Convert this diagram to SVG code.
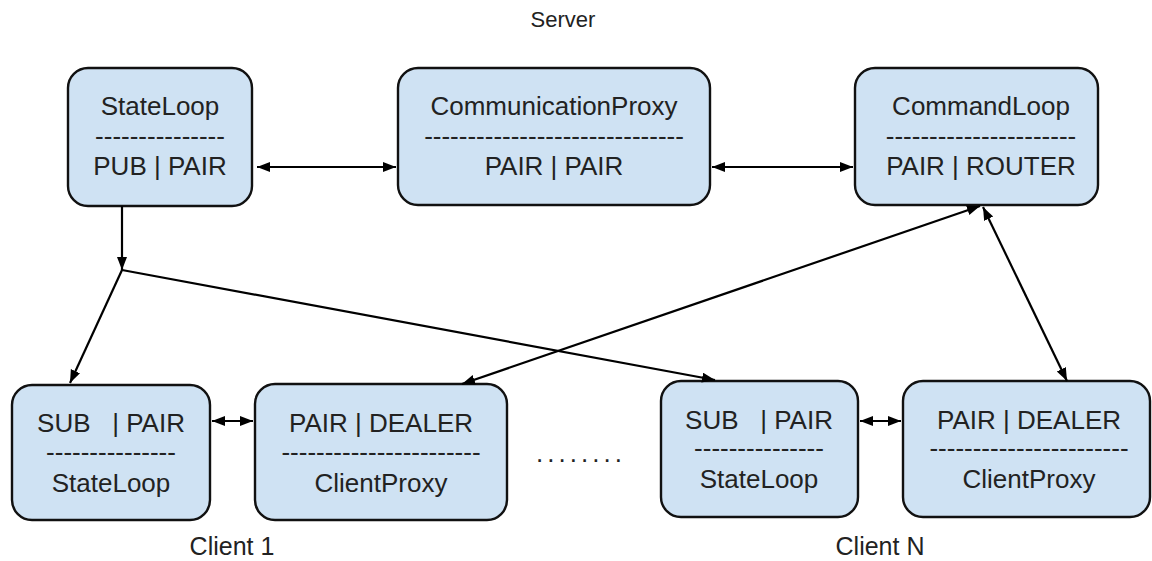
<svg xmlns="http://www.w3.org/2000/svg" width="1152" height="561" viewBox="0 0 1152 561">
<defs>
<marker id="ah" markerUnits="userSpaceOnUse" markerWidth="16" markerHeight="12" refX="13" refY="5" orient="auto-start-reverse" viewBox="0 0 16 12">
<path d="M0,0 L13,5 L0,10 z" fill="#000"/>
</marker>
</defs>
<style>
.box{fill:#cfe2f3;stroke:#111;stroke-width:2.4}
.t{font-family:"Liberation Sans",Arial,sans-serif;font-size:26px;fill:#222;text-anchor:middle;white-space:pre}
.lbl{font-family:"Liberation Sans",Arial,sans-serif;fill:#222;text-anchor:middle}
.c{fill:none;stroke:#000;stroke-width:2.2}
</style>
<rect width="1152" height="561" fill="#fff"/>
<text class="lbl" x="563" y="27" font-size="22">Server</text>
<g id="stateloop-server">
<rect class="box" x="68" y="68" width="184" height="138" rx="20"/>
<text class="t" x="160" y="115">StateLoop</text>
<text class="t" x="160" y="145">---------------</text>
<text class="t" x="160" y="175">PUB | PAIR</text>
</g>
<g id="communicationproxy">
<rect class="box" x="398" y="68" width="312" height="137" rx="20"/>
<text class="t" x="554" y="115">CommunicationProxy</text>
<text class="t" x="554" y="145">------------------------------</text>
<text class="t" x="554" y="175">PAIR | PAIR</text>
</g>
<g id="commandloop">
<rect class="box" x="855" y="68" width="243" height="137" rx="20"/>
<text class="t" x="981" y="115">CommandLoop</text>
<text class="t" x="981" y="145">----------------------</text>
<text class="t" x="981" y="175">PAIR | ROUTER</text>
</g>
<g id="client1-stateloop">
<rect class="box" x="12" y="385" width="198" height="135" rx="20"/>
<text class="t" x="111" y="432">SUB   | PAIR</text>
<text class="t" x="111" y="461">---------------</text>
<text class="t" x="111" y="492">StateLoop</text>
</g>
<g id="client1-clientproxy">
<rect class="box" x="255" y="384" width="252" height="136" rx="20"/>
<text class="t" x="381" y="432">PAIR | DEALER</text>
<text class="t" x="381" y="461">-----------------------</text>
<text class="t" x="381" y="492">ClientProxy</text>
</g>
<g id="clientN-stateloop">
<rect class="box" x="661" y="381" width="197" height="136" rx="20"/>
<text class="t" x="759" y="429">SUB   | PAIR</text>
<text class="t" x="759" y="457">---------------</text>
<text class="t" x="759" y="488">StateLoop</text>
</g>
<g id="clientN-clientproxy">
<rect class="box" x="903" y="381" width="247" height="136" rx="20"/>
<text class="t" x="1029" y="429">PAIR | DEALER</text>
<text class="t" x="1029" y="457">-----------------------</text>
<text class="t" x="1029" y="488">ClientProxy</text>
</g>
<text class="lbl" x="581" y="462" font-size="26" letter-spacing="4">........</text>
<text class="lbl" x="232" y="555" font-size="25">Client 1</text>
<text class="lbl" x="880" y="555" font-size="25">Client N</text>
<g id="connectors">
<line class="c" x1="122" y1="206" x2="122" y2="270" marker-end="url(#ah)"/>
<line class="c" x1="122" y1="270" x2="70" y2="383" marker-end="url(#ah)"/>
<line class="c" x1="122" y1="270" x2="715" y2="380" marker-end="url(#ah)"/>
<line class="c" x1="257" y1="167" x2="396" y2="167" marker-start="url(#ah)" marker-end="url(#ah)"/>
<line class="c" x1="712" y1="167" x2="853" y2="167" marker-start="url(#ah)" marker-end="url(#ah)"/>
<line class="c" x1="462" y1="384" x2="980" y2="206" marker-start="url(#ah)" marker-end="url(#ah)"/>
<line class="c" x1="983" y1="207" x2="1067" y2="381" marker-start="url(#ah)" marker-end="url(#ah)"/>
<line class="c" x1="212" y1="421" x2="253" y2="421" marker-start="url(#ah)" marker-end="url(#ah)"/>
<line class="c" x1="860" y1="421" x2="901" y2="421" marker-start="url(#ah)" marker-end="url(#ah)"/>
</g>
</svg>
